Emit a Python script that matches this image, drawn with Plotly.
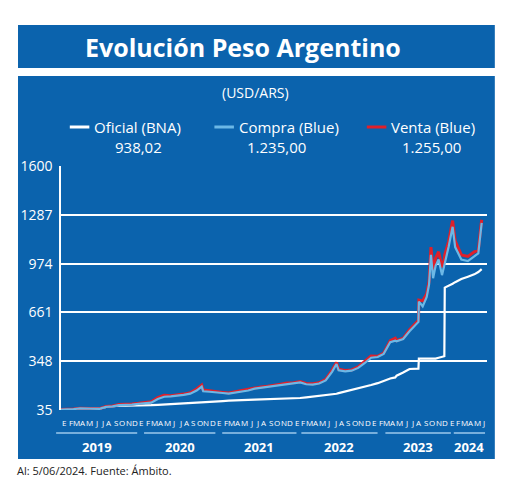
import plotly.graph_objects as go

# monthly dates Jan 2019 .. Jun 2024 (plus a few mid-month points for spikes)
dates = [
    "2019-01-01", "2019-02-01", "2019-03-01", "2019-04-01", "2019-05-01", "2019-06-01",
    "2019-07-01", "2019-08-01", "2019-09-01", "2019-10-01", "2019-11-01", "2019-12-01",
    "2020-01-01", "2020-02-01", "2020-03-01", "2020-04-01", "2020-05-01", "2020-06-01",
    "2020-07-01", "2020-08-01", "2020-09-01", "2020-10-01", "2020-10-25", "2020-11-01", "2020-12-01",
    "2021-01-01", "2021-02-01", "2021-03-01", "2021-04-01", "2021-05-01", "2021-06-01",
    "2021-07-01", "2021-08-01", "2021-09-01", "2021-10-01", "2021-11-01", "2021-12-01",
    "2022-01-01", "2022-02-01", "2022-03-01", "2022-04-01", "2022-05-01", "2022-06-01",
    "2022-07-01", "2022-07-22", "2022-08-01", "2022-09-01", "2022-10-01", "2022-11-01", "2022-12-01",
    "2023-01-01", "2023-02-01", "2023-03-01", "2023-04-01", "2023-04-25", "2023-05-01", "2023-06-01",
    "2023-07-01", "2023-08-12", "2023-08-14", "2023-09-01", "2023-09-20", "2023-10-01", "2023-10-10",
    "2023-10-20", "2023-11-01", "2023-11-15", "2023-12-01", "2023-12-12", "2023-12-14",
    "2024-01-01", "2024-01-20", "2024-02-01", "2024-03-01", "2024-04-01", "2024-05-01",
    "2024-05-20", "2024-06-05",
]
oficial = [
    39, 39, 41, 43, 46, 46,
    44, 55, 60, 63, 63, 63,
    63, 64, 66, 68, 70, 72,
    74, 77, 80, 82, 83, 85, 88,
    90, 92, 95, 98, 99, 100,
    101, 102, 103, 105, 106, 108,
    110, 112, 116, 120, 125, 130,
    136, 139, 143, 153, 163, 172, 184,
    195, 207, 222, 237, 244, 255, 275,
    298, 300, 365, 365, 365, 365, 365,
    365, 365, 370, 375, 380, 820,
    830, 845, 855, 875, 890, 905,
    920, 938,
]
compra = [
    37, 38, 41, 45, 44, 42,
    42, 55, 58, 66, 67, 70,
    74, 78, 82, 105, 120, 122,
    126, 132, 140, 160, 185, 155, 152,
    150, 144, 140, 147, 152, 160,
    172, 178, 182, 190, 196, 203,
    205, 212, 200, 198, 205, 225,
    280, 330, 290, 283, 287, 305, 335,
    370, 375, 395, 470, 480, 475, 490,
    540, 600, 730, 700, 760, 840, 1030,
    880, 960, 1000, 900, 960, 990,
    1080, 1210, 1080, 1000, 990, 1020,
    1040, 1235,
]
venta = [
    38, 39, 42, 46, 45, 43,
    43, 58, 61, 70, 70, 74,
    78, 82, 88, 115, 130, 127,
    131, 137, 146, 170, 195, 163, 158,
    155, 148, 144, 152, 157, 165,
    177, 183, 187, 196, 201, 208,
    210, 217, 205, 203, 210, 232,
    290, 340, 296, 289, 292, 311, 346,
    381, 380, 400, 480, 495, 480, 495,
    550, 610, 740, 735, 780, 860, 1080,
    930, 1010, 1050, 950, 1000, 1030,
    1115, 1250, 1120, 1030, 1020, 1050,
    1060, 1255,
]
y_ticks = [35, 348, 661, 974, 1287, 1600]
month_letters = ["E", "F", "M", "A", "M", "J", "J", "A", "S", "O", "N", "D"]
years = ["2019", "2020", "2021", "2022", "2023", "2024"]

OFF = 8  # the page body adds an 8px margin
W, H = 520 - OFF, 497 - OFF
L, R, T, B = 51 - OFF, 487 - OFF, 166 - OFF, 410 - OFF
BLUE = "#0b63ad"
FONT = "Open Sans"


def px_x(p):
    return (p - OFF - L) / (R - L)


def px_y(p):
    return (B - (p - OFF)) / (B - T)


fig = go.Figure()
fig.add_trace(go.Scatter(x=dates, y=oficial, mode="lines",
                         line=dict(color="white", width=2.2)))
fig.add_trace(go.Scatter(x=dates, y=venta, mode="lines",
                         line=dict(color="#e0202a", width=3)))
fig.add_trace(go.Scatter(x=dates, y=compra, mode="lines",
                         line=dict(color="#6cb8e6", width=2.2)))

shapes = [
    # title banner and chart panel
    dict(type="rect", xref="paper", yref="paper", x0=px_x(7), x1=px_x(495),
         y0=px_y(25), y1=px_y(68), fillcolor=BLUE, line_width=0, layer="below"),
    dict(type="rect", xref="paper", yref="paper", x0=px_x(7), x1=px_x(495),
         y0=px_y(76), y1=px_y(459), fillcolor=BLUE, line_width=0, layer="below"),
]
annotations = [
    dict(text="<b>Evolución Peso Argentino</b>", x=px_x(237), y=px_y(47),
         font=dict(size=25, color="white", family=FONT)),
    dict(text="(USD/ARS)", x=px_x(250), y=px_y(93),
         font=dict(size=14, color="white", family=FONT)),
    dict(text="Al: 5/06/2024. Fuente: Ámbito.", x=px_x(5), y=px_y(470), xanchor="left",
         font=dict(size=11, color="#222", family=FONT)),
]

# legend drawn by hand
legend = [("Oficial (BNA)", "938,02", "white", 60, 130),
          ("Compra (Blue)", "1.235,00", "#6cb8e6", 208, 272),
          ("Venta (Blue)", "1.255,00", "#e0202a", 364, 430)]
for name, val, col, x0, xv in legend:
    shapes.append(dict(type="line", xref="paper", yref="paper", x0=px_x(x0), x1=px_x(x0 + 20),
                       y0=px_y(127), y1=px_y(127), line=dict(color=col, width=3)))
    annotations.append(dict(text=name, x=px_x(x0 + 24), y=px_y(127), xanchor="left",
                            font=dict(size=15, color="white", family=FONT)))
    annotations.append(dict(text=val, x=px_x(xv), y=px_y(147),
                            font=dict(size=15, color="white", family=FONT)))

# month letters (placed on the date axis)
for y in years:
    n = 6 if y == "2024" else 12
    for m in range(n):
        annotations.append(dict(text=month_letters[m], x=f"{y}-{m + 1:02d}-15", xref="x",
                                y=px_y(422), font=dict(size=8, color="white", family=FONT)))

# year labels with underline
year_spans = [(46, 129), (136, 209), (216, 292), (297, 375), (383, 450), (453, 485)]
for y, (a, b) in zip(years, year_spans):
    shapes.append(dict(type="line", xref="paper", yref="paper", x0=px_x(a), x1=px_x(b),
                       y0=px_y(433), y1=px_y(433), line=dict(color="#9cc8ec", width=1.5)))
    annotations.append(dict(text=f"<b>{y}</b>", x=px_x((a + b) / 2), y=px_y(447),
                            font=dict(size=13, color="white", family=FONT)))

for a in annotations:
    a.setdefault("xanchor", "center")
    a.setdefault("xref", "paper")
    a.update(yref="paper", showarrow=False, yanchor="middle", borderpad=0)

fig.update_layout(
    width=W, height=H,
    margin=dict(l=L, r=W - R, t=T, b=H - B),
    paper_bgcolor="white", plot_bgcolor=BLUE,
    showlegend=False,
    shapes=shapes, annotations=annotations,
    font=dict(family=FONT, color="white"),
)
fig.update_xaxes(range=["2019-01-01", "2024-06-30"], showticklabels=False, showgrid=False,
                 ticks="", showline=False, zeroline=False)
fig.update_yaxes(range=[35, 1600], tickvals=y_ticks, ticktext=[str(v) for v in y_ticks],
                 showgrid=True, gridcolor="white", gridwidth=1.5, ticks="",
                 tickfont=dict(size=14, color="white"), showline=True, linecolor="white",
                 linewidth=1.5, zeroline=False, ticklabelstandoff=4)

fig.write_html("out.html")
